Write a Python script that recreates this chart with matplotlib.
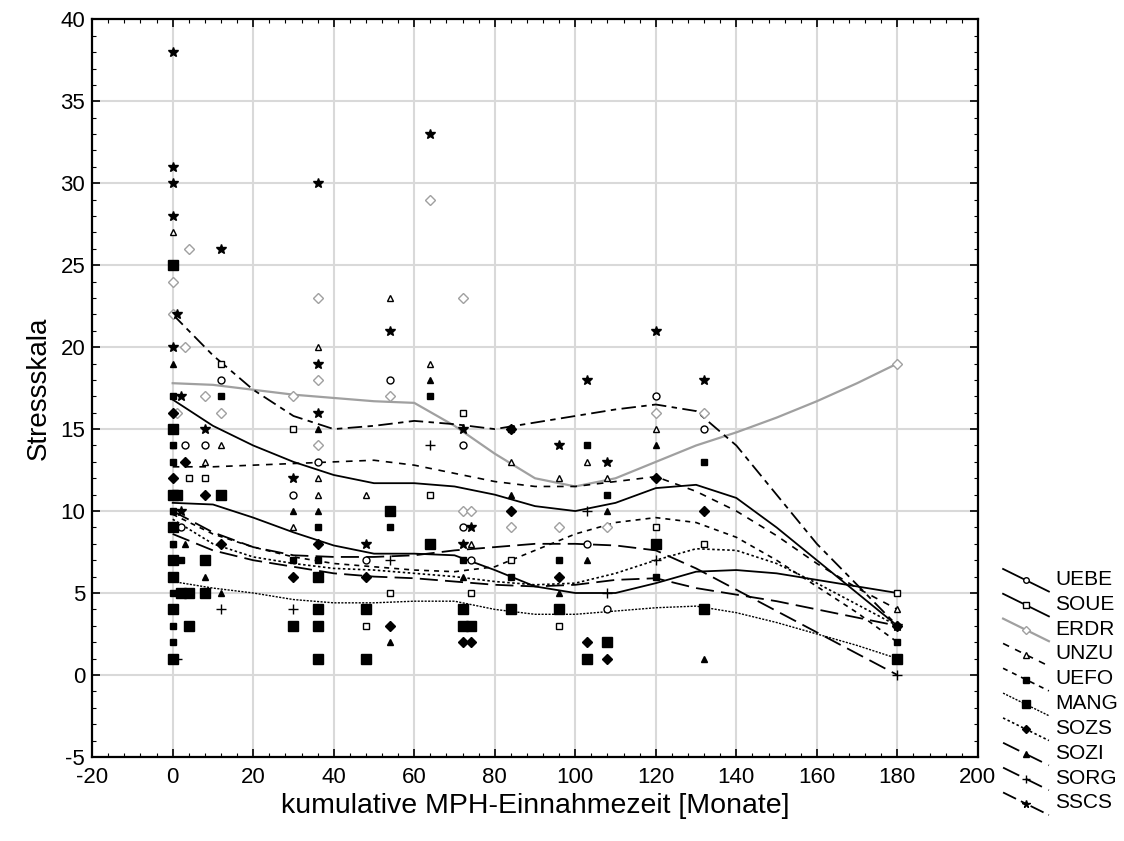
import matplotlib
matplotlib.use("Agg")
import matplotlib.pyplot as plt
from matplotlib.lines import Line2D
from matplotlib.legend_handler import HandlerBase
from matplotlib.ticker import MultipleLocator

plt.rcParams["font.family"] = ["Liberation Sans", "DejaVu Sans"]
plt.rcParams["axes.unicode_minus"] = False

curve_x = [0, 10, 20, 30, 40, 50, 60, 70, 80, 90, 100, 110, 120, 130, 140, 150, 160, 170, 180]

uebe_x = [3, 8, 12, 30, 36, 48, 54, 72, 72, 74, 103, 108, 120, 132, 180, 2]
uebe_y = [14, 14, 18, 11, 13, 7, 18, 14, 9, 7, 8, 4, 17, 15, 3, 9]
uebe_curve = [16.8, 15.2, 14.0, 13.0, 12.2, 11.7, 11.7, 11.5, 11.0, 10.3, 10.0, 10.5, 11.4, 11.6, 10.8, 9.0, 7.0, 5.0, 3.0]

soue_x = [4, 8, 12, 30, 54, 48, 64, 72, 74, 84, 96, 120, 132, 180]
soue_y = [12, 12, 19, 15, 5, 3, 11, 16, 5, 7, 3, 9, 8, 5]
soue_curve = [10.5, 10.4, 9.6, 8.7, 7.9, 7.4, 7.4, 7.3, 6.4, 5.4, 5.0, 5.0, 5.6, 6.3, 6.4, 6.2, 5.8, 5.4, 5.0]

erdr_x = [0, 0, 1, 3, 4, 8, 12, 30, 36, 36, 36, 54, 64, 72, 72, 74, 84, 96, 108, 120, 132, 180]
erdr_y = [24, 22, 16, 20, 26, 17, 16, 17, 23, 18, 14, 17, 29, 23, 10, 10, 9, 9, 9, 16, 16, 19]
erdr_curve = [17.8, 17.7, 17.4, 17.1, 16.9, 16.7, 16.6, 15.2, 13.5, 12.0, 11.5, 12.0, 13.0, 14.0, 14.8, 15.7, 16.7, 17.8, 19.0]

unzu_x = [0, 0, 8, 12, 30, 36, 36, 36, 48, 54, 64, 74, 84, 96, 103, 108, 120, 180]
unzu_y = [27, 14, 13, 14, 9, 20, 12, 11, 11, 23, 19, 8, 13, 12, 13, 12, 15, 4]
unzu_curve = [12.7, 12.7, 12.8, 12.9, 13.0, 13.1, 12.8, 12.3, 11.8, 11.5, 11.5, 11.8, 12.1, 11.2, 10.0, 8.5, 6.8, 5.3, 4.0]

uefo_x = [0, 0, 0, 0, 0, 0, 0, 0, 2, 12, 30, 36, 36, 54, 54, 64, 72, 84, 84, 96, 103, 108, 120, 132, 180]
uefo_y = [2, 3, 5, 8, 10, 13, 14, 17, 7, 17, 7, 9, 7, 10, 9, 17, 7, 15, 6, 7, 14, 11, 6, 13, 2]
uefo_curve = [9.8, 8.6, 7.8, 7.2, 6.8, 6.6, 6.4, 6.3, 6.6, 7.6, 8.6, 9.3, 9.6, 9.3, 8.4, 7.0, 5.4, 3.8, 2.0]

mang_x = [0, 0, 0, 0, 0, 0, 0, 0, 1, 2, 4, 4, 8, 8, 12, 30, 36, 36, 36, 36, 48, 48,
          54, 64, 72, 72, 74, 84, 96, 103, 108, 120, 132, 180]
mang_y = [1, 4, 6, 7, 9, 11, 15, 25, 11, 5, 3, 5, 5, 7, 11, 3, 6, 4, 3, 1, 4, 1,
          10, 8, 4, 3, 3, 4, 4, 1, 2, 8, 4, 1]
mang_curve = [5.7, 5.3, 5.0, 4.6, 4.4, 4.4, 4.5, 4.5, 4.0, 3.7, 3.7, 3.9, 4.1, 4.2, 3.8, 3.2, 2.5, 1.8, 1.0]

sozs_x = [0, 0, 0, 3, 8, 12, 30, 36, 48, 54, 72, 74, 84, 84, 96, 103, 108, 120, 132, 180]
sozs_y = [12, 16, 6, 13, 11, 8, 6, 8, 6, 3, 2, 2, 10, 15, 6, 2, 1, 12, 10, 3]
sozs_curve = [9.5, 8.0, 7.2, 6.8, 6.5, 6.4, 6.2, 6.0, 5.7, 5.5, 5.6, 6.2, 7.0, 7.7, 7.6, 6.8, 5.6, 4.3, 3.0]

sozi_x = [0, 0, 0, 3, 8, 12, 30, 36, 36, 54, 64, 72, 84, 96, 103, 108, 120, 132, 180]
sozi_y = [19, 8, 10, 8, 6, 5, 10, 15, 10, 2, 18, 6, 11, 5, 7, 10, 14, 1, 3]
sozi_curve = [8.6, 7.6, 7.0, 6.6, 6.2, 6.0, 5.9, 5.7, 5.5, 5.4, 5.5, 5.8, 5.9, 5.3, 4.9, 4.5, 4.0, 3.5, 3.0]

sorg_x = [1, 12, 30, 54, 64, 103, 108, 120, 180]
sorg_y = [1, 4, 4, 7, 14, 10, 5, 7, 0]
sorg_curve = [10.0, 8.7, 7.8, 7.3, 7.2, 7.2, 7.3, 7.6, 7.8, 8.0, 8.0, 7.9, 7.6, 6.5, 5.2, 3.9, 2.6, 1.3, 0.0]

sscs_x = [0, 0, 0, 0, 1, 0, 2, 8, 2, 12, 30, 36, 36, 36, 48, 54, 64, 72, 74, 72, 96, 103, 108, 120, 132, 180]
sscs_y = [38, 31, 30, 28, 22, 20, 17, 15, 10, 26, 12, 30, 19, 16, 8, 21, 33, 15, 9, 8, 14, 18, 13, 21, 18, 3]
sscs_curve = [22.0, 19.5, 17.4, 15.8, 15.0, 15.2, 15.5, 15.3, 15.0, 15.4, 15.8, 16.2, 16.5, 16.1, 14.0, 11.0, 8.0, 5.5, 3.0]

series = [
    ("UEBE", uebe_x, uebe_y, uebe_curve, dict(color="black", ls="-", lw=1.3, marker="o", ms=5, mfc="white")),
    ("SOUE", soue_x, soue_y, soue_curve, dict(color="black", ls="-", lw=1.3, marker="s", ms=5, mfc="white")),
    ("ERDR", erdr_x, erdr_y, erdr_curve, dict(color="#a0a0a0", ls="-", lw=1.6, marker="D", ms=5, mfc="white")),
    ("UNZU", unzu_x, unzu_y, unzu_curve, dict(color="black", ls=(0, (4, 4)), lw=1.2, marker="^", ms=5, mfc="white")),
    ("UEFO", uefo_x, uefo_y, uefo_curve, dict(color="black", ls=(0, (3, 3)), lw=1.2, marker="s", ms=5, mfc="black")),
    ("MANG", mang_x, mang_y, mang_curve, dict(color="black", ls=(0, (1.5, 1)), lw=1.0, marker="s", ms=7, mfc="black")),
    ("SOZS", sozs_x, sozs_y, sozs_curve, dict(color="black", ls=(0, (1.5, 1.5)), lw=1.2, marker="D", ms=5, mfc="black")),
    ("SOZI", sozi_x, sozi_y, sozi_curve, dict(color="black", ls=(0, (10, 4)), lw=1.3, marker="^", ms=5, mfc="black")),
    ("SORG", sorg_x, sorg_y, sorg_curve, dict(color="black", ls=(0, (10, 4)), lw=1.3, marker="+", ms=7, mfc="black")),
    ("SSCS", sscs_x, sscs_y, sscs_curve, dict(color="black", ls=(0, (8, 3, 3, 3)), lw=1.3, marker="*", ms=7, mfc="black")),
]


class DiagonalHandler(HandlerBase):
    def create_artists(self, legend, orig_handle, xdescent, ydescent, width, height, fontsize, trans):
        x0, x1 = -xdescent, -xdescent + width
        y0, y1 = -ydescent + height * 1.1, -ydescent - height * 0.45
        ln = Line2D([x0, x1], [y0, y1])
        ln.update_from(orig_handle)
        ln.set_marker("None")
        ln.set_transform(trans)
        mk = Line2D([(x0 + x1) / 2], [(y0 + y1) / 2])
        mk.update_from(orig_handle)
        mk.set_linestyle("None")
        mk.set_markersize(orig_handle.get_markersize() * 0.8)
        mk.set_transform(trans)
        return [ln, mk]


fig = plt.figure(figsize=(11.24, 8.41), dpi=100)
ax = fig.add_axes([0.082, 0.100, 0.788, 0.877])

handles = []
for name, xs, ys, curve, st in series:
    ax.plot(xs, ys, ls="None", marker=st["marker"], ms=st["ms"], mfc=st["mfc"],
            mec=st["color"], mew=1.0, zorder=3)
    ax.plot(curve_x, curve, color=st["color"], ls=st["ls"], lw=st["lw"], zorder=2)
    handles.append(Line2D([], [], color=st["color"], ls=st["ls"], lw=st["lw"],
                          marker=st["marker"], ms=st["ms"], mfc=st["mfc"],
                          mec=st["color"], mew=1.0, label=name))

ax.set_xlim(-20, 200)
ax.set_ylim(-5, 40)
ax.xaxis.set_major_locator(MultipleLocator(20))
ax.xaxis.set_minor_locator(MultipleLocator(4))
ax.yaxis.set_major_locator(MultipleLocator(5))
ax.yaxis.set_minor_locator(MultipleLocator(1))
ax.tick_params(which="both", direction="in", top=True, right=True, labelsize=16)
ax.tick_params(axis="x", which="major", pad=7)
ax.tick_params(axis="y", which="major", pad=5)
ax.tick_params(which="major", length=6, width=1.2)
ax.tick_params(which="minor", length=3, width=0.8)
ax.grid(True, which="major", color="#d9d9d9", lw=1.5, zorder=0)
ax.set_axisbelow(True)
for sp in ax.spines.values():
    sp.set_linewidth(1.6)

ax.set_xlabel("kumulative MPH-Einnahmezeit [Monate]", fontsize=20.5, labelpad=4)
ax.set_ylabel("Stressskala", fontsize=20, labelpad=6)

fig.legend(handles=handles, loc="lower left", bbox_to_anchor=(0.885, 0.024),
           frameon=False, fontsize=15, handlelength=2.2, handletextpad=0.3,
           labelspacing=0.28, borderaxespad=0,
           handler_map={Line2D: DiagonalHandler()})

fig.savefig("out.png", dpi=100)
